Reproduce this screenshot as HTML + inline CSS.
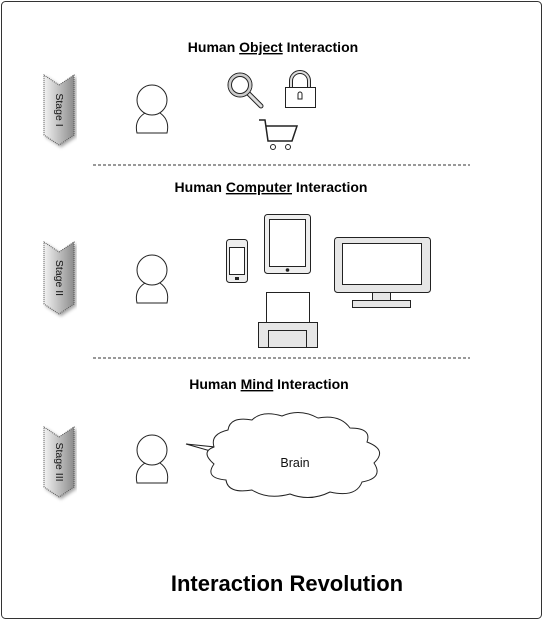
<!DOCTYPE html>
<html><head><style>body{margin:0;background:#fff}svg{display:block}</style></head><body>
<svg width="543" height="620" viewBox="0 0 543 620" xmlns="http://www.w3.org/2000/svg" font-family="Liberation Sans, sans-serif">
<defs>
<linearGradient id="g" x1="0" x2="1" y1="0" y2="0"><stop offset="0" stop-color="#f2f2f2"/><stop offset="1" stop-color="#8c8c8c"/></linearGradient>
<filter id="sh"><feDropShadow dx="2" dy="2" stdDeviation="1.5" flood-opacity="0.35"/></filter>
</defs>
<rect x="1.5" y="1.5" width="540" height="617" rx="4" fill="#fff" stroke="#333" stroke-width="1"/>
<g font-weight="bold" font-size="14" text-anchor="middle" fill="#000">
<text x="273" y="52">Human <tspan text-decoration="underline">Object</tspan> Interaction</text>
<text x="271" y="192">Human <tspan text-decoration="underline">Computer</tspan> Interaction</text>
<text x="269" y="389">Human <tspan text-decoration="underline">Mind</tspan> Interaction</text>
</g>
<text x="287" y="591" font-weight="bold" font-size="22" text-anchor="middle">Interaction Revolution</text>
<line x1="93" y1="165" x2="470" y2="165" stroke="#333" stroke-dasharray="3,2"/>
<line x1="93" y1="358" x2="470" y2="358" stroke="#333" stroke-dasharray="3,2"/>
<g stroke="#555" stroke-dasharray="1,1" fill="url(#g)" filter="url(#sh)">
<path d="M44 75 L59 85 L74 75 L74 135 L59 145 L44 135Z"/>
<path d="M44 242 L59 252 L74 242 L74 304 L59 314 L44 304Z"/>
<path d="M44 427 L59 437 L74 427 L74 487 L59 497 L44 487Z"/>
</g>
<g font-size="10.5" fill="#111" text-anchor="middle">
<text transform="translate(56,110) rotate(90)">Stage I</text>
<text transform="translate(56,278) rotate(90)">Stage II</text>
<text transform="translate(56,462) rotate(90)">Stage III</text>
</g>
<g fill="#fff" stroke="#222" stroke-width="1">
<g id="p"><path d="M137 133 Q134 120 145 113 L160 113 Q170 120 167 133 Z"/><circle cx="152" cy="100" r="15"/></g>
<use href="#p" y="170"/>
<use href="#p" y="350"/>
</g>
<line x1="248" y1="93" x2="261" y2="106" stroke="#222" stroke-width="5" stroke-linecap="round"/>
<line x1="248" y1="93" x2="261" y2="106" stroke="#ddd" stroke-width="3" stroke-linecap="round"/>
<circle cx="240" cy="85" r="12" fill="#fff" stroke="#222" stroke-width="1"/>
<circle cx="240" cy="85" r="10" fill="none" stroke="#ccc" stroke-width="3"/>
<circle cx="240" cy="85" r="8.5" fill="none" stroke="#222" stroke-width="1"/>
<path d="M291 88 V81 A9 9 0 0 1 309 81 V88" fill="none" stroke="#222" stroke-width="4"/>
<path d="M291 88 V81 A9 9 0 0 1 309 81 V88" fill="none" stroke="#ddd" stroke-width="2"/>
<rect x="285.5" y="87.5" width="30" height="20" fill="#fff" stroke="#222"/>
<path d="M298 99 L298 94 A2 2 0 1 1 302 94 L302 99Z" fill="none" stroke="#222"/>
<path d="M259 120 H265 L268 141 H292 L297 126 H266" fill="none" stroke="#222" stroke-width="1.5"/>
<circle cx="273" cy="147" r="2.5" fill="#fff" stroke="#222"/>
<circle cx="288" cy="147" r="2.5" fill="#fff" stroke="#222"/>
<rect x="226.5" y="239.5" width="21" height="43" rx="3" fill="#eee" stroke="#222"/>
<rect x="229.5" y="247.5" width="15" height="27" fill="#fff" stroke="#222"/>
<rect x="235" y="277" width="4" height="3" fill="#222"/>
<rect x="264.5" y="214.5" width="46" height="59" rx="3" fill="#eee" stroke="#222"/>
<rect x="269.5" y="219.5" width="36" height="47" fill="#fff" stroke="#222"/>
<circle cx="287.5" cy="270" r="1.8" fill="#222"/>
<rect x="334.5" y="237.5" width="96" height="55" rx="3" fill="#e6e6e6" stroke="#222"/>
<rect x="342.5" y="243.5" width="79" height="41" fill="#fff" stroke="#222"/>
<rect x="372.5" y="292.5" width="18" height="8" fill="#e6e6e6" stroke="#222"/>
<rect x="352.5" y="300.5" width="58" height="7" fill="#e6e6e6" stroke="#222"/>
<rect x="266.5" y="292.5" width="43" height="31" fill="#fff" stroke="#222"/>
<rect x="258.5" y="322.5" width="59" height="25" fill="#e6e6e6" stroke="#222"/>
<rect x="268.5" y="330.5" width="38" height="17" fill="#e6e6e6" stroke="#222"/>
<path d="M186 444 L215 447 L214 452 Z" fill="#fff" stroke="#222"/>
<path d="M228 430 Q230 416 252 420 Q262 410 282 416 Q300 408 318 418 Q340 414 350 428 Q372 428 367 442 Q388 450 374 463 Q384 478 362 482 Q356 498 330 492 Q310 502 290 494 Q268 500 252 490 Q228 494 226 480 Q204 478 214 464 Q200 452 214 447 Q210 434 228 430 Z" fill="#fff" stroke="#222"/>
<text x="295" y="467" font-size="12.5" text-anchor="middle" fill="#111">Brain</text>
</svg>
</body></html>
